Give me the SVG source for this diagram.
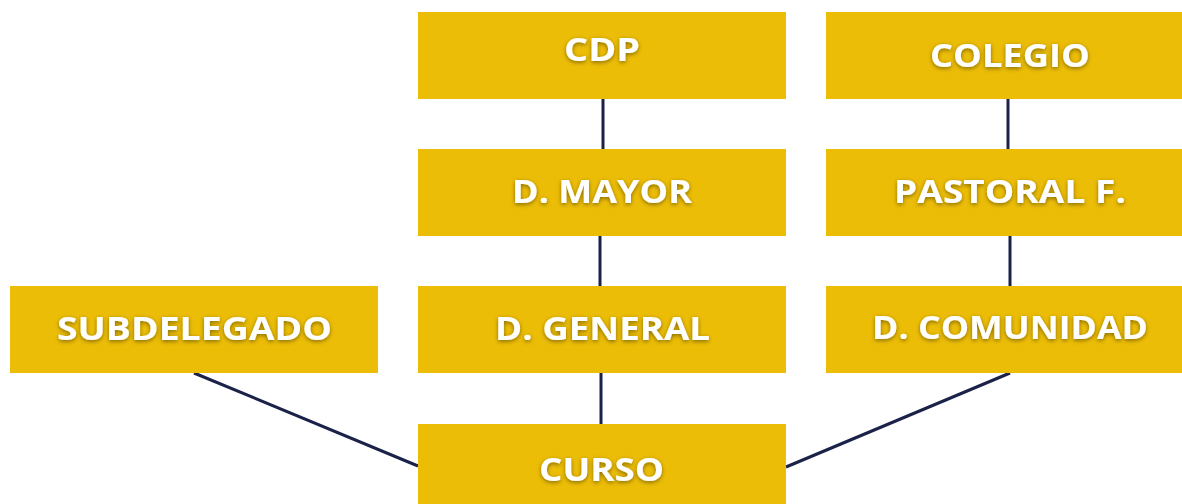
<svg xmlns="http://www.w3.org/2000/svg" width="1182" height="504" viewBox="0 0 1182 504">
<defs>
<filter id="sh" x="-10%" y="-30%" width="120%" height="160%">
<feDropShadow dx="0" dy="1.5" stdDeviation="2" flood-color="#000" flood-opacity="0.45"/>
</filter>
<style>
.box{fill:#ECBD06}
.lbl{fill:#fff;font-family:"Open Sans","Liberation Sans",sans-serif;font-weight:700;font-size:32px;text-anchor:middle;filter:url(#sh)}
.con{stroke:#1B2249;stroke-width:3;fill:none}
</style>
</defs>
<rect width="1182" height="504" fill="#fff"/>
<g id="connectors">
<line class="con" x1="603" y1="99" x2="603" y2="149"/>
<line class="con" x1="600" y1="236" x2="600" y2="286"/>
<line class="con" x1="601" y1="373" x2="601" y2="424"/>
<line class="con" x1="1008" y1="99" x2="1008" y2="149"/>
<line class="con" x1="1010" y1="236" x2="1010" y2="286"/>
<line class="con" x1="194" y1="373" x2="418" y2="466"/>
<line class="con" x1="1010" y1="373" x2="786" y2="467"/>
</g>
<g id="cdp"><rect class="box" x="418" y="12" width="368" height="87"/><text class="lbl" x="602" y="61" textLength="76" lengthAdjust="spacingAndGlyphs">CDP</text></g>
<g id="dmayor"><rect class="box" x="418" y="149" width="368" height="87"/><text class="lbl" x="602" y="203" textLength="180" lengthAdjust="spacingAndGlyphs">D. MAYOR</text></g>
<g id="dgeneral"><rect class="box" x="418" y="286" width="368" height="87"/><text class="lbl" x="602.5" y="340" textLength="215" lengthAdjust="spacingAndGlyphs">D. GENERAL</text></g>
<g id="curso"><rect class="box" x="418" y="424" width="368" height="80"/><text class="lbl" x="601.5" y="481" textLength="125" lengthAdjust="spacingAndGlyphs">CURSO</text></g>
<g id="subdelegado"><rect class="box" x="10" y="286" width="368" height="87"/><text class="lbl" x="194.5" y="340" textLength="275" lengthAdjust="spacingAndGlyphs">SUBDELEGADO</text></g>
<g id="colegio"><rect class="box" x="826" y="12" width="356" height="87"/><text class="lbl" x="1010" y="67" textLength="160" lengthAdjust="spacingAndGlyphs">COLEGIO</text></g>
<g id="pastoral"><rect class="box" x="826" y="149" width="356" height="87"/><text class="lbl" x="1010" y="203" textLength="232" lengthAdjust="spacingAndGlyphs">PASTORAL F.</text></g>
<g id="dcomunidad"><rect class="box" x="826" y="286" width="356" height="87"/><text class="lbl" x="1010" y="339" textLength="276" lengthAdjust="spacingAndGlyphs">D. COMUNIDAD</text></g>
</svg>
